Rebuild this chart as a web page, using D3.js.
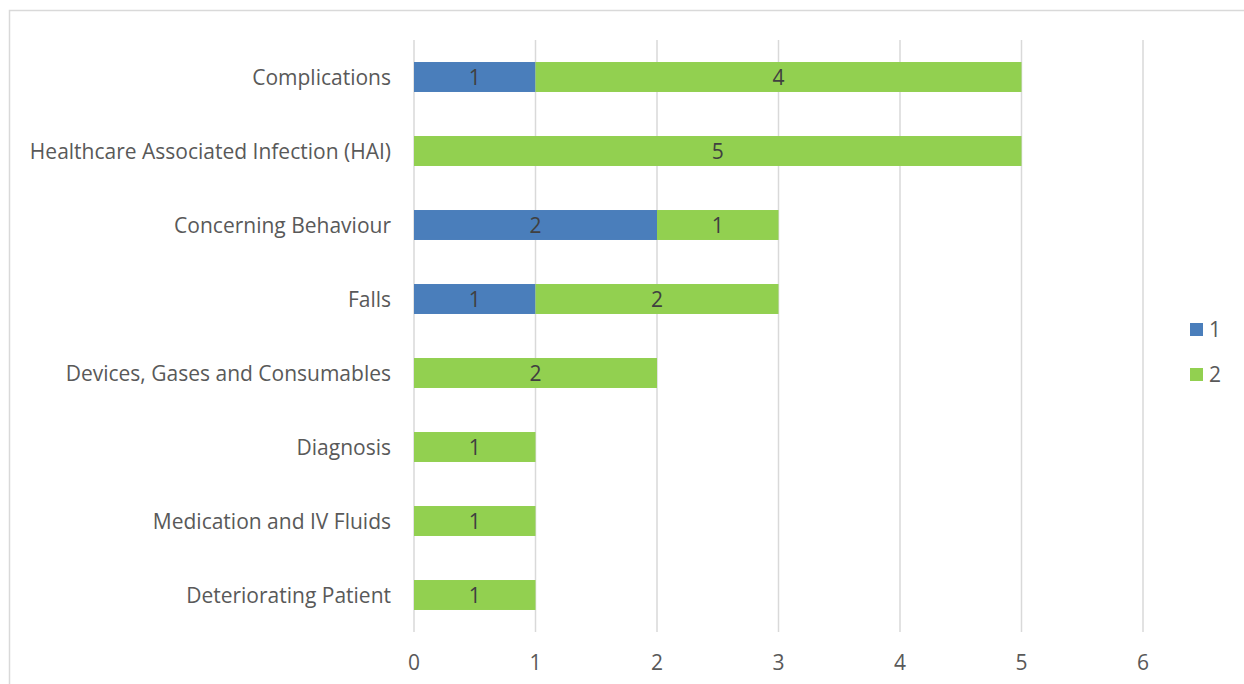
<!DOCTYPE html>
<html>
<head>
<meta charset="utf-8">
<script src="https://cdn.jsdelivr.net/npm/d3@7"></script>
<style>
  body { margin: 0; background: #fff; }
  svg text { font-family: "Open Sans", "Noto Sans", sans-serif; }
</style>
</head>
<body>
<div id="chart"></div>
<script>
// Incident categories, top to bottom
const categories = [
  "Complications",
  "Healthcare Associated Infection (HAI)",
  "Concerning Behaviour",
  "Falls",
  "Devices, Gases and Consumables",
  "Diagnosis",
  "Medication and IV Fluids",
  "Deteriorating Patient"
];
const seriesNames = ["1", "2"];
const series1 = [1, 0, 2, 1, 0, 0, 0, 0];
const series2 = [4, 5, 1, 2, 2, 1, 1, 1];
const xTicks = [0, 1, 2, 3, 4, 5, 6];
const colors = ["#4a7ebb", "#92d050"];

(function () {
  const W = 1244, H = 684;
  const x0 = 414, x1 = 1143, yTop = 40, yBot = 632;
  const fs = "21px";

  const svg = d3.select("#chart").append("svg")
    .attr("width", W).attr("height", H);

  // chart frame
  svg.append("rect")
    .attr("x", 9.5).attr("y", 10.5).attr("width", 1250).attr("height", 690)
    .attr("fill", "none").attr("stroke", "#d9d9d9").attr("stroke-width", 1.5);

  const x = d3.scaleLinear().domain([0, 6]).range([x0, x1]);
  const y = d3.scaleBand().domain(categories).range([yTop, yBot]).paddingInner(0.595).paddingOuter(0.2975);

  // gridlines
  svg.append("g").selectAll("line").data(xTicks).join("line")
    .attr("x1", d => x(d)).attr("x2", d => x(d))
    .attr("y1", yTop).attr("y2", yBot)
    .attr("stroke", "#d9d9d9").attr("stroke-width", 1.5);

  // x tick labels
  svg.append("g").selectAll("text").data(xTicks).join("text")
    .attr("x", d => x(d)).attr("y", 670)
    .attr("text-anchor", "middle").attr("fill", "#595959").attr("font-size", fs)
    .text(d => d);

  // category labels
  svg.append("g").selectAll("text").data(categories).join("text")
    .attr("x", 391).attr("y", d => y(d) + y.bandwidth() / 2)
    .attr("dy", "0.36em")
    .attr("text-anchor", "end").attr("fill", "#595959").attr("font-size", fs)
    .text(d => d);

  // stacked bars
  const rows = categories.map((c, i) => ({ cat: c, "1": series1[i], "2": series2[i] }));
  const stacked = d3.stack().keys(seriesNames)(rows);

  stacked.forEach((layer, k) => {
    const g = svg.append("g");
    const segs = layer.filter(d => d[1] - d[0] > 0);
    g.selectAll("rect").data(segs).join("rect")
      .attr("x", d => x(d[0]))
      .attr("y", d => y(d.data.cat))
      .attr("width", d => x(d[1]) - x(d[0]))
      .attr("height", y.bandwidth())
      .attr("fill", colors[k]);
    g.selectAll("text").data(segs).join("text")
      .attr("x", d => (x(d[0]) + x(d[1])) / 2)
      .attr("y", d => y(d.data.cat) + y.bandwidth() / 2)
      .attr("dy", "0.36em")
      .attr("text-anchor", "middle").attr("fill", "#404040").attr("font-size", fs)
      .text(d => d[1] - d[0]);
  });

  // legend
  const lg = svg.append("g");
  seriesNames.forEach((s, i) => {
    lg.append("rect")
      .attr("x", 1190).attr("y", 323 + i * 45).attr("width", 13).attr("height", 13)
      .attr("fill", colors[i]);
    lg.append("text")
      .attr("x", 1209).attr("y", 329.5 + i * 45).attr("dy", "0.36em")
      .attr("fill", "#595959").attr("font-size", fs)
      .text(s);
  });
})();
</script>
</body>
</html>
